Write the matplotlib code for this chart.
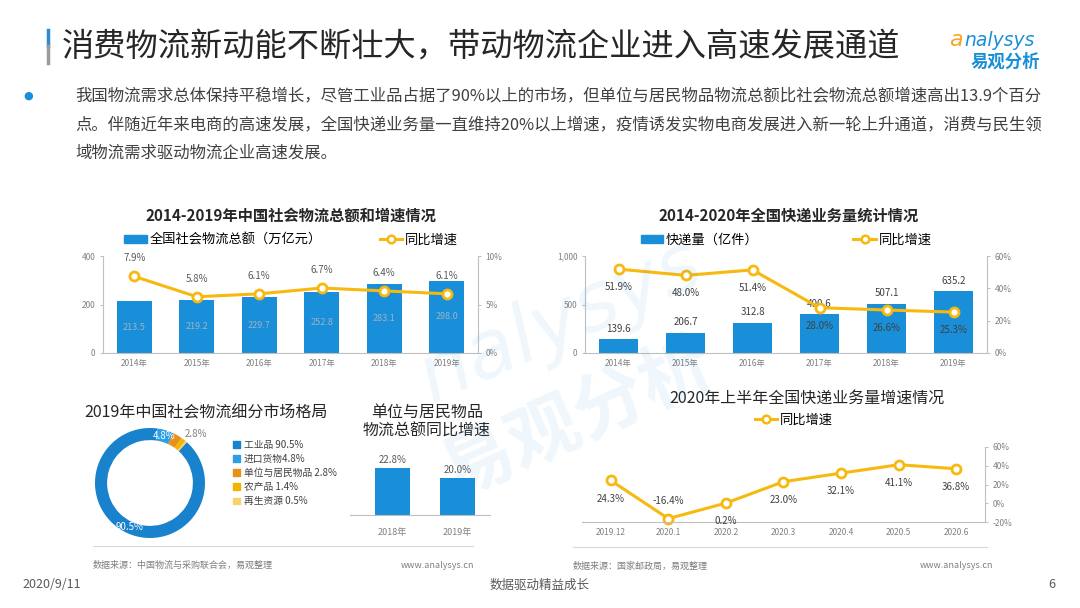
import math
import matplotlib
matplotlib.use("Agg")
import matplotlib.pyplot as plt
from matplotlib.patches import Patch
from matplotlib.lines import Line2D
from matplotlib.ticker import FuncFormatter

plt.rcParams['font.family'] = ['Noto Sans CJK SC', 'DejaVu Sans']

# ---------------- data ----------------
years_a = ["2014年", "2015年", "2016年", "2017年", "2018年", "2019年"]
freight_total = [213.5, 219.2, 229.7, 252.8, 283.1, 298.0]      # 万亿元
freight_growth = [7.9, 5.8, 6.1, 6.7, 6.4, 6.1]                 # %

years_b = ["2014年", "2015年", "2016年", "2017年", "2018年", "2019年"]
express_volume = [139.6, 206.7, 312.8, 400.6, 507.1, 635.2]     # 亿件
express_growth = [51.9, 48.0, 51.4, 28.0, 26.6, 25.3]           # %

segment_names = ["工业品 ", "进口货物", "单位与居民物品 ", "农产品 ", "再生资源 "]
segment_shares = [90.5, 4.8, 2.8, 1.4, 0.5]

unit_years = ["2018年", "2019年"]
unit_growth = [22.8, 20.0]

months_2020 = ["2019.12", "2020.1", "2020.2", "2020.3", "2020.4", "2020.5", "2020.6"]
express_growth_2020 = [24.3, -16.4, 0.2, 23.0, 32.1, 41.1, 36.8]

# ---------------- style ----------------
W, H = 1080, 608
BLUE = '#1A8FD9'
GOLD = '#F7B90F'
AXG = '#BFBFBF'
TKG = '#808080'
TXT = '#404040'
seg_colors = ['#1882CC', '#2C9FE4', '#E8901A', '#F2B400', '#F6D36E']


def rect(x0, y0, x1, y1):
    return [x0 / W, 1 - y1 / H, (x1 - x0) / W, (y1 - y0) / H]


def fx(x):
    return x / W


def fy(y):
    return 1 - y / H


fig = plt.figure(figsize=(W / 100, H / 100), dpi=100)
fig.patch.set_facecolor('white')

# ---------------- header ----------------
fig.add_artist(Line2D([fx(48), fx(48)], [fy(30), fy(46)], color='#2E8BD0', lw=2.5))
fig.add_artist(Line2D([fx(48), fx(48)], [fy(46), fy(63)], color='#9A9A9A', lw=2.5))
fig.text(fx(62), fy(47), "消费物流新动能不断壮大，带动物流企业进入高速发展通道",
         fontsize=23.2, color='#262626', ha='left', va='center')

# logo
fig.text(fx(949), fy(40), "a", fontsize=16, color='#F5A623', style='italic',
         ha='left', va='center', family=['DejaVu Sans'])
fig.text(fx(964), fy(40), "nalysys", fontsize=13.5, color='#1A8FD9', style='italic',
         ha='left', va='center', family=['DejaVu Sans'])
fig.text(fx(1005), fy(62), "易观分析", fontsize=12.5, color='#1A8FD9', weight='bold',
         ha='center', va='center')

fig.text(fx(28), fy(96), "●", fontsize=8, color='#1A8FD9', ha='center', va='center',
         family=['DejaVu Sans'])
body_lines = [
    "我国物流需求总体保持平稳增长，尽管工业品占据了90%以上的市场，但单位与居民物品物流总额比社会物流总额增速高出13.9个百分",
    "点。伴随近年来电商的高速发展，全国快递业务量一直维持20%以上增速，疫情诱发实物电商发展进入新一轮上升通道，消费与民生领",
    "域物流需求驱动物流企业高速发展。",
]
for i, ln in enumerate(body_lines):
    fig.text(fx(75), fy(96 + 28.5 * i), ln, fontsize=11.8, color=TXT, ha='left', va='center')


def style_ticks(ax):
    ax.tick_params(axis='both', labelsize=6, labelcolor=TKG, color=AXG, length=2.5, width=0.7, pad=3)
    ax.tick_params(axis='x', length=0, pad=4)


# ---------------- chart 1 ----------------
fig.text(fx(291), fy(216), "2014-2019年中国社会物流总额和增速情况", fontsize=11,
         weight='bold', color='#262626', ha='center', va='center')
ax1 = fig.add_axes(rect(103, 256, 478, 353))
ax1.set_facecolor('none')
x1 = list(range(len(years_a)))
b1 = ax1.bar(x1, freight_total, width=0.56, color=BLUE, zorder=2)
ax1.bar_label(b1, labels=[f"{v:.1f}" for v in freight_total], label_type='center',
              fontsize=6.5, color='#9DB1C2')
ax1.set_xlim(-0.5, len(years_a) - 0.5)
ax1.set_ylim(0, 400)
ax1.set_yticks([0, 200, 400])
ax1.set_xticks(x1, years_a)
for s in ['top', 'right']:
    ax1.spines[s].set_visible(False)
for s in ['left', 'bottom']:
    ax1.spines[s].set_color(AXG)
    ax1.spines[s].set_linewidth(0.8)
style_ticks(ax1)
ax1r = ax1.twinx()
ax1r.plot(x1, freight_growth, color=GOLD, lw=2.2, marker='o', ms=6.5, mfc='white',
          mec=GOLD, mew=2, zorder=3)
ax1r.set_ylim(0, 10)
ax1r.set_yticks([0, 5, 10])
ax1r.yaxis.set_major_formatter(FuncFormatter(lambda v, p: f"{v:.0f}%"))
for s in ['top', 'left', 'bottom']:
    ax1r.spines[s].set_visible(False)
ax1r.spines['right'].set_color(AXG)
ax1r.spines['right'].set_linewidth(0.8)
style_ticks(ax1r)
for xi, v in zip(x1, freight_growth):
    ax1r.annotate(f"{v}%", (xi, v), xytext=(0, 13), textcoords='offset points',
                  ha='center', va='center', fontsize=7, color='#595959')
fig.legend(handles=[Patch(color=BLUE), Line2D([], [], color=GOLD, lw=2.2, marker='o', ms=5.5,
                                               mfc='white', mec=GOLD, mew=1.8)],
           labels=["全国社会物流总额（万亿元）", "同比增速"], ncol=2, loc='center',
           bbox_to_anchor=(fx(291), fy(240)), frameon=False, fontsize=9.5,
           handlelength=1.7, handleheight=0.6, handletextpad=0.2, columnspacing=4.4,
           borderpad=0, borderaxespad=0)

# ---------------- chart 2 ----------------
fig.text(fx(789), fy(216), "2014-2020年全国快递业务量统计情况", fontsize=11,
         weight='bold', color='#262626', ha='center', va='center')
ax2 = fig.add_axes(rect(585, 256, 987, 353))
ax2.set_facecolor('none')
x2 = list(range(len(years_b)))
b2 = ax2.bar(x2, express_volume, width=0.58, color=BLUE, zorder=2)
ax2.bar_label(b2, labels=[f"{v:.1f}" for v in express_volume], padding=4,
              fontsize=7, color='#404040')
ax2.set_xlim(-0.5, len(years_b) - 0.5)
ax2.set_ylim(0, 1000)
ax2.set_yticks([0, 500, 1000])
ax2.yaxis.set_major_formatter(FuncFormatter(lambda v, p: f"{v:,.0f}"))
ax2.set_xticks(x2, years_b)
for s in ['top', 'right']:
    ax2.spines[s].set_visible(False)
for s in ['left', 'bottom']:
    ax2.spines[s].set_color(AXG)
    ax2.spines[s].set_linewidth(0.8)
style_ticks(ax2)
ax2r = ax2.twinx()
ax2r.plot(x2, express_growth, color=GOLD, lw=2.2, marker='o', ms=6.5, mfc='white',
          mec=GOLD, mew=2, zorder=3)
ax2r.set_ylim(0, 60)
ax2r.set_yticks([0, 20, 40, 60])
ax2r.yaxis.set_major_formatter(FuncFormatter(lambda v, p: f"{v:.0f}%"))
for s in ['top', 'left', 'bottom']:
    ax2r.spines[s].set_visible(False)
ax2r.spines['right'].set_color(AXG)
ax2r.spines['right'].set_linewidth(0.8)
style_ticks(ax2r)
for xi, v in zip(x2, express_growth):
    ax2r.annotate(f"{v:.1f}%", (xi, v), xytext=(0, -13), textcoords='offset points',
                  ha='center', va='center', fontsize=7, color='#404040')
fig.legend(handles=[Patch(color=BLUE), Line2D([], [], color=GOLD, lw=2.2, marker='o', ms=5.5,
                                               mfc='white', mec=GOLD, mew=1.8)],
           labels=["快递量（亿件）", "同比增速"], ncol=2, loc='center',
           bbox_to_anchor=(fx(786), fy(240)), frameon=False, fontsize=9.5,
           handlelength=1.7, handleheight=0.6, handletextpad=0.2, columnspacing=7.2,
           borderpad=0, borderaxespad=0)

# ---------------- donut ----------------
fig.text(fx(206), fy(413), "2019年中国社会物流细分市场格局", fontsize=11.5,
         color='#262626', ha='center', va='center')
cx, cy, rr = 150, 483, 60.5
axd = fig.add_axes(rect(cx - rr, cy - rr, cx + rr, cy + rr))
wedges, _ = axd.pie(segment_shares, colors=seg_colors, startangle=48, counterclock=False,
                    wedgeprops=dict(width=0.22, linewidth=0))
axd.set_xlim(-1.1, 1.1)
axd.set_ylim(-1.1, 1.1)
axd.set_aspect('equal')
for idx in (0, 1):
    w = wedges[idx]
    a = math.radians((w.theta1 + w.theta2) / 2)
    axd.text(0.89 * math.cos(a), 0.89 * math.sin(a), f"{segment_shares[idx]}%",
             ha='center', va='center', fontsize=7, color='white')
a = math.radians(wedges[2].theta1)
axd.text(1.1 * math.cos(a), 1.1 * math.sin(a), f"{segment_shares[2]}%",
         ha='left', va='center', fontsize=7, color='#7F7F7F', clip_on=False)
fig.legend(handles=[Patch(color=c) for c in seg_colors],
           labels=[f"{n}{v}%" for n, v in zip(segment_names, segment_shares)],
           loc='upper left', bbox_to_anchor=(fx(233), fy(440)), frameon=False, fontsize=7,
           handlelength=0.7, handleheight=0.7, handletextpad=0.4, labelspacing=0.42,
           borderpad=0, borderaxespad=0, labelcolor='#404040')

# ---------------- middle bars ----------------
fig.text(fx(427), fy(422), "单位与居民物品\n物流总额同比增速", fontsize=11.5,
         color='#262626', ha='center', va='center', linespacing=1.15)
axm = fig.add_axes(rect(350, 455, 490, 515))
axm.set_facecolor('none')
bm = axm.bar(range(len(unit_years)), unit_growth, width=0.54, color=BLUE)
axm.bar_label(bm, labels=[f"{v:.1f}%" for v in unit_growth], padding=2, fontsize=7,
              color='#595959')
axm.set_xlim(-0.65, 1.5)
axm.set_ylim(10, 26.3)
axm.set_yticks([])
axm.set_xticks(range(len(unit_years)), unit_years)
for s in ['top', 'right', 'left']:
    axm.spines[s].set_visible(False)
axm.spines['bottom'].set_color(AXG)
axm.spines['bottom'].set_linewidth(0.8)
axm.tick_params(axis='x', length=0, pad=9, labelsize=6.5, labelcolor=TKG)

fig.add_artist(Line2D([fx(93), fx(473)], [fy(546), fy(546)], color='#D9D9D9', lw=0.8))
fig.text(fx(93), fy(565), "数据来源：中国物流与采购联合会，易观整理", fontsize=6.5,
         color='#7F7F7F', ha='left', va='center')
fig.text(fx(474), fy(565), "www.analysys.cn", fontsize=6.5, color='#7F7F7F',
         ha='right', va='center')

# ---------------- chart 3 ----------------
fig.text(fx(807), fy(398), "2020年上半年全国快递业务量增速情况", fontsize=11.5,
         color='#262626', ha='center', va='center')
ax3 = fig.add_axes(rect(582, 447, 985, 522))
ax3.set_facecolor('none')
x3 = list(range(len(months_2020)))
ax3.plot(x3, express_growth_2020, color=GOLD, lw=2.2, marker='o', ms=6.5, mfc='white',
         mec=GOLD, mew=2, clip_on=False, label="同比增速")
ax3.set_xlim(-0.5, len(months_2020) - 0.5)
ax3.set_ylim(-20, 60)
ax3.yaxis.tick_right()
ax3.set_yticks([-20, 0, 20, 40, 60])
ax3.yaxis.set_major_formatter(FuncFormatter(lambda v, p: f"{v:.0f}%"))
ax3.set_xticks(x3, months_2020)
for s in ['top', 'left']:
    ax3.spines[s].set_visible(False)
for s in ['right', 'bottom']:
    ax3.spines[s].set_color(AXG)
    ax3.spines[s].set_linewidth(0.8)
style_ticks(ax3)
lowest = min(express_growth_2020)
for xi, v in zip(x3, express_growth_2020):
    off = 13 if v == lowest else -13
    ax3.annotate(f"{v:.1f}%", (xi, v), xytext=(0, off), textcoords='offset points',
                 ha='center', va='center', fontsize=7, color='#404040')
fig.legend(handles=[Line2D([], [], color=GOLD, lw=2.2, marker='o', ms=5.5, mfc='white',
                           mec=GOLD, mew=1.8)],
           labels=["同比增速"], loc='center', bbox_to_anchor=(fx(794), fy(420)),
           frameon=False, fontsize=9.5, handlelength=1.7, handletextpad=0.2,
           borderpad=0, borderaxespad=0)

fig.add_artist(Line2D([fx(573), fx(987)], [fy(547), fy(547)], color='#D9D9D9', lw=0.8))
fig.text(fx(573), fy(566), "数据来源：国家邮政局，易观整理", fontsize=6.5,
         color='#7F7F7F', ha='left', va='center')
fig.text(fx(993), fy(566), "www.analysys.cn", fontsize=6.5, color='#7F7F7F',
         ha='right', va='center')

# ---------------- watermark ----------------
fig.text(fx(560), fy(322), "nalysys", fontsize=58, style='italic', color='#1A8FD9',
         alpha=0.07, rotation=24, ha='center', va='center', family=['DejaVu Sans'])
fig.text(fx(578), fy(420), "易观分析", fontsize=52, weight='bold', color='#1A8FD9',
         alpha=0.07, rotation=24, ha='center', va='center')

# ---------------- footer ----------------
fig.text(fx(22), fy(585), "2020/9/11", fontsize=9, color='#595959', ha='left', va='center')
fig.text(fx(540), fy(585), "数据驱动精益成长", fontsize=9, color='#595959', ha='center', va='center')
fig.text(fx(1052), fy(585), "6", fontsize=9, color='#595959', ha='center', va='center')

fig.savefig("out.png", dpi=100, facecolor='white')
